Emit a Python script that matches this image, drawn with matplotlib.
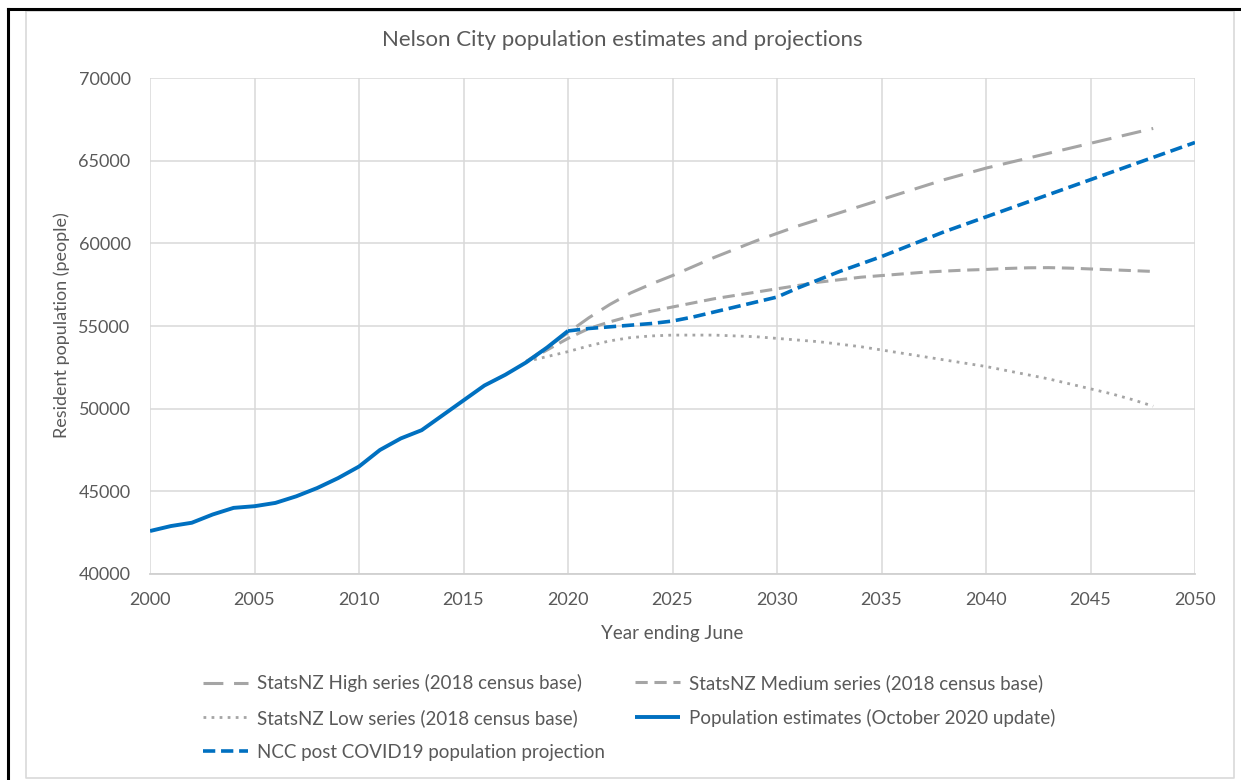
import matplotlib
matplotlib.use("Agg")
import matplotlib.pyplot as plt
from matplotlib.lines import Line2D

plt.rcParams['font.family'] = ['Lato', 'DejaVu Sans']

# ---------------- data ----------------
est_years = list(range(2000, 2021))
est_values = [42600, 42900, 43100, 43600, 44000, 44100, 44300, 44700, 45200, 45800,
              46500, 47500, 48200, 48700, 49600, 50500, 51400, 52050, 52800, 53700, 54700]

proj_years = list(range(2018, 2049))
high_values = [52850, 53700, 54600, 55500, 56300, 57000, 57550, 58050, 58600, 59150,
               59650, 60150, 60600, 61050, 61450, 61850, 62250, 62650, 63050, 63450,
               63850, 64200, 64550, 64850, 65150, 65450, 65750, 66050, 66350, 66650, 66950]
medium_values = [52850, 53550, 54250, 54850, 55250, 55600, 55900, 56150, 56400, 56650,
                 56850, 57050, 57250, 57450, 57650, 57800, 57950, 58050, 58150, 58250,
                 58320, 58380, 58420, 58480, 58520, 58530, 58500, 58450, 58400, 58350, 58300]
low_values = [52850, 53150, 53450, 53800, 54100, 54300, 54400, 54450, 54450, 54450,
              54400, 54350, 54250, 54150, 54050, 53900, 53750, 53550, 53350, 53150,
              52950, 52750, 52550, 52300, 52050, 51800, 51500, 51200, 50900, 50550, 50150]

ncc_years = list(range(2020, 2051))
ncc_values = [54700, 54850, 54950, 55050, 55150, 55300, 55550, 55850, 56150, 56450,
              56750, 57300, 57800, 58300, 58750, 59200, 59700, 60200, 60700, 61150,
              61600, 62050, 62500, 62950, 63400, 63850, 64300, 64750, 65200, 65650, 66100]

x_ticks = list(range(2000, 2051, 5))
y_ticks = list(range(40000, 70001, 5000))

title = "Nelson City population estimates and projections"
x_label = "Year ending June"
y_label = "Resident population (people)"
lbl_high = "StatsNZ High series (2018 census base)"
lbl_med = "StatsNZ Medium series (2018 census base)"
lbl_low = "StatsNZ Low series (2018 census base)"
lbl_est = "Population estimates (October 2020 update)"
lbl_ncc = "NCC post COVID19 population projection"

# ---------------- figure ----------------
W, H = 1241, 780
fig = plt.figure(figsize=(W / 100, H / 100), dpi=100)
ax = fig.add_axes([150 / W, 1 - 574 / H, (1195 - 150) / W, (574 - 78) / H])

grey = '#a5a5a5'
blue = '#0070c0'
txt = '#595959'
gridc = '#d9d9d9'

l_high, = ax.plot(proj_years, high_values, color=grey, lw=2.2,
                  linestyle=(0, (6.5, 3.5)), label=lbl_high)
l_med, = ax.plot(proj_years, medium_values, color=grey, lw=2.2,
                 linestyle=(0, (4, 2.2)), label=lbl_med)
l_low, = ax.plot(proj_years, low_values, color=grey, lw=2.0,
                 linestyle=(0, (1, 1.9)), label=lbl_low)
l_ncc, = ax.plot(ncc_years, ncc_values, color=blue, lw=2.6,
                 linestyle=(0, (3.4, 1.6)), label=lbl_ncc)
l_est, = ax.plot(est_years, est_values, color=blue, lw=2.8,
                 solid_capstyle='butt', label=lbl_est)

ax.set_xlim(2000, 2050)
ax.set_ylim(40000, 70000)
ax.set_xticks(x_ticks)
ax.set_yticks(y_ticks)
ax.grid(True, color=gridc, lw=1.1)
ax.set_axisbelow(True)
for s in ['top', 'right', 'left']:
    ax.spines[s].set_visible(False)
ax.spines['bottom'].set_color('#d0d0d0')
ax.spines['bottom'].set_linewidth(1.3)
ax.tick_params(length=0, labelsize=13, colors=txt)
ax.tick_params(axis='x', pad=13)
ax.tick_params(axis='y', pad=14)

fig.text(622 / W, 1 - 40 / H, title, ha='center', va='center', fontsize=16, color=txt)
fig.text(672 / W, 1 - 633 / H, x_label, ha='center', va='center', fontsize=13.5, color=txt)
fig.text(62 / W, 1 - 325 / H, y_label, ha='center', va='center', rotation=90,
         fontsize=13, color=txt)

leg_kw = dict(loc='upper left', frameon=False, fontsize=13.5, labelcolor=txt,
              handlelength=2.4, handletextpad=0.5, labelspacing=0.9,
              borderpad=0, borderaxespad=0)
h1 = [l_high, l_low, l_ncc]
h2 = [l_med, l_est]
fig.legend(handles=h1, labels=[h.get_label() for h in h1],
           bbox_to_anchor=(203 / W, 1 - 674 / H), **leg_kw)
fig.legend(handles=h2, labels=[h.get_label() for h in h2],
           bbox_to_anchor=(635 / W, 1 - 674 / H), **leg_kw)

# chart border (grey) and screenshot frame (black)
fig.add_artist(Line2D([26 / W, 26 / W, 1234 / W, 1234 / W, 26 / W],
                      [1 - 11 / H, 1 - 778 / H, 1 - 778 / H, 1 - 11 / H, 1 - 11 / H],
                      transform=fig.transFigure, color='#d9d9d9', lw=1.2))
fig.add_artist(Line2D([8 / W, 8 / W], [0, 1 - 9 / H], transform=fig.transFigure,
                      color='black', lw=2.2))
fig.add_artist(Line2D([8 / W, 1], [1 - 9 / H, 1 - 9 / H], transform=fig.transFigure,
                      color='black', lw=2.2))

fig.savefig('out.png', dpi=100)
